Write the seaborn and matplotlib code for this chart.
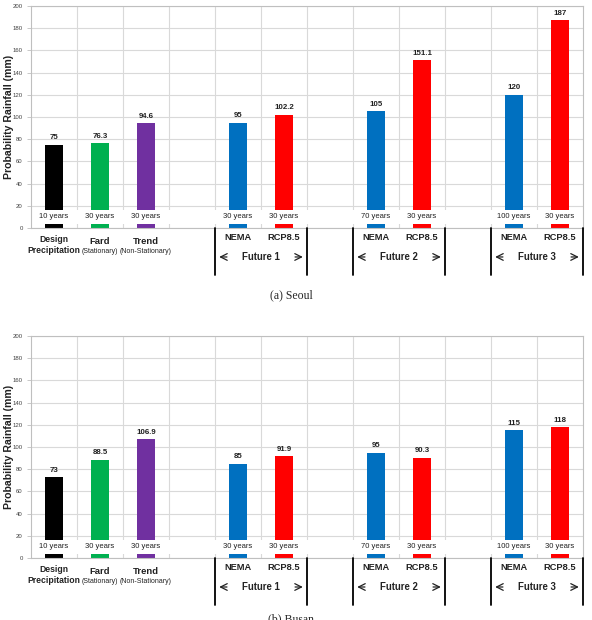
import matplotlib
matplotlib.use("Agg")
import matplotlib.pyplot as plt
import matplotlib.transforms as mtransforms
import seaborn as sns
import pandas as pd

# ---------------- data ----------------
slots = ["Design", "Fard", "Trend", "gap1", "F1 NEMA", "F1 RCP8.5",
         "gap2", "F2 NEMA", "F2 RCP8.5", "gap3", "F3 NEMA", "F3 RCP8.5"]
bar_keys = ["Design", "Fard", "Trend", "F1 NEMA", "F1 RCP8.5",
            "F2 NEMA", "F2 RCP8.5", "F3 NEMA", "F3 RCP8.5"]
seoul_values = [75, 76.3, 94.6, 95, 102.2, 105, 151.1, 120, 187]
busan_values = [73, 88.5, 106.9, 85, 91.9, 95, 90.3, 115, 118]
return_periods = ["10 years", "30 years", "30 years", "30 years", "30 years",
                  "70 years", "30 years", "100 years", "30 years"]
bar_colors = ["#000000", "#00b050", "#7030a0", "#0070c0", "#ff0000",
              "#0070c0", "#ff0000", "#0070c0", "#ff0000"]
main_labels = ["Design\nPrecipitation", "Fard", "Trend", "NEMA", "RCP8.5",
               "NEMA", "RCP8.5", "NEMA", "RCP8.5"]
sub_labels = ["", "(Stationary)", "(Non-Stationary)", "", "", "", "", "", ""]
future_labels = ["Future 1", "Future 2", "Future 3"]
future_spans = [("F1 NEMA", "F1 RCP8.5"), ("F2 NEMA", "F2 RCP8.5"), ("F3 NEMA", "F3 RCP8.5")]
y_ticks = [0, 20, 40, 60, 80, 100, 120, 140, 160, 180, 200]
captions = ["(a) Seoul", "(b) Busan"]

sns.set_theme(style="white")
plt.rcParams["font.family"] = ["Liberation Sans", "DejaVu Sans"]

fig = plt.figure(figsize=(5.92, 6.2), dpi=100)
ax_top = fig.add_axes([0.0524, 0.6323, 0.9324, 0.358])
ax_bot = fig.add_axes([0.0524, 0.1, 0.9324, 0.358])

palette = dict(zip(bar_keys, bar_colors))
PX = 0.72  # points per pixel at 100 dpi
TXT = "#222222"


def draw_panel(ax, values):
    df = pd.DataFrame({"key": bar_keys, "value": values})
    sns.barplot(data=df, x="key", y="value", hue="key", order=slots,
                hue_order=bar_keys, palette=palette, width=0.4,
                legend=False, ax=ax, saturation=1, linewidth=0)
    ax.set_xlim(-0.5, len(slots) - 0.5)
    ax.set_ylim(0, 200)
    ax.set_yticks(y_ticks)
    ax.set_yticklabels([str(t) for t in y_ticks], fontsize=4.3, color="#404040")
    ax.tick_params(axis="y", length=3, width=0.6, color="#bfbfbf", pad=3, left=True)
    # vertical grid at slot boundaries
    ax.set_xticks(range(len(slots)))
    ax.set_xticklabels([""] * len(slots))
    ax.tick_params(axis="x", which="major", length=0)
    ax.set_xticks([i - 0.5 for i in range(1, len(slots))], minor=True)
    ax.tick_params(axis="x", which="minor", length=3, color="#bfbfbf", width=0.6)
    ax.grid(True, axis="y", color="#d9d9d9", linewidth=0.8)
    ax.grid(True, axis="x", which="minor", color="#d9d9d9", linewidth=0.8)
    ax.set_axisbelow(True)
    ax.set_xlabel("")
    ax.set_ylabel("Probability Rainfall (mm)", fontsize=7.6, fontweight="bold",
                  color=TXT)
    ax.yaxis.label.set_va("center")
    ax.yaxis.set_label_coords(-22 / 552, 0.5)
    for sp in ax.spines.values():
        sp.set_color("#bfbfbf")
        sp.set_linewidth(0.8)

    # white band carrying the return-period labels
    ax.axhspan(3.5, 16.5, color="white", zorder=1.5, linewidth=0)

    positions = [slots.index(k) for k in bar_keys]
    for x, v, rp in zip(positions, values, return_periods):
        ax.text(x, 10, rp, ha="center", va="center", fontsize=5.5,
                color=TXT, zorder=3)
        ax.annotate(f"{v:g}", xy=(x, v), xytext=(0, 2.5), textcoords="offset points",
                    ha="center", va="bottom", fontsize=5.7, fontweight="bold",
                    color=TXT)

    trans = mtransforms.blended_transform_factory(ax.transData, ax.transAxes)
    for x, main, sub in zip(positions, main_labels, sub_labels):
        if "\n" in main:
            ax.annotate(main, xy=(x, 0), xycoords=trans, xytext=(0, -17 * PX),
                        textcoords="offset points", ha="center", va="center",
                        fontsize=6.2, fontweight="bold", color=TXT,
                        linespacing=1.25, annotation_clip=False)
        elif sub:
            ax.annotate(main, xy=(x, 0), xycoords=trans, xytext=(0, -13.5 * PX),
                        textcoords="offset points", ha="center", va="center",
                        fontsize=6.8, fontweight="bold", color=TXT,
                        annotation_clip=False)
            ax.annotate(sub, xy=(x, 0), xycoords=trans, xytext=(0, -23.5 * PX),
                        textcoords="offset points", ha="center", va="center",
                        fontsize=5, color=TXT, annotation_clip=False)
        else:
            ax.annotate(main, xy=(x, 0), xycoords=trans, xytext=(0, -9.5 * PX),
                        textcoords="offset points", ha="center", va="center",
                        fontsize=6.7, fontweight="bold", color=TXT,
                        annotation_clip=False)

    line_h = 47 / 222
    for label, (a, b) in zip(future_labels, future_spans):
        xa = slots.index(a) - 0.5
        xb = slots.index(b) + 0.5
        for xx in (xa, xb):
            ax.plot([xx, xx], [0, -line_h], transform=trans, color="black",
                    linewidth=1.3, clip_on=False, zorder=5)
        ymid = -29 / 222
        ax.text((xa + xb) / 2, ymid, label, transform=trans, ha="center",
                va="center", fontsize=6.9, fontweight="bold", color=TXT)
        ax.annotate("", xy=(xa + 0.03, ymid), xycoords=trans,
                    xytext=(xa + 0.32, ymid), textcoords=trans,
                    arrowprops=dict(arrowstyle="->", color=TXT, lw=0.9),
                    annotation_clip=False)
        ax.annotate("", xy=(xb - 0.03, ymid), xycoords=trans,
                    xytext=(xb - 0.32, ymid), textcoords=trans,
                    arrowprops=dict(arrowstyle="->", color=TXT, lw=0.9),
                    annotation_clip=False)


draw_panel(ax_top, seoul_values)
draw_panel(ax_bot, busan_values)

fig.text(0.492, 1 - 295 / 620, captions[0], ha="center", va="center",
         fontsize=8.5, family=["Liberation Serif", "DejaVu Serif"])
fig.text(0.492, 1 - 619 / 620, captions[1], ha="center", va="center",
         fontsize=8.5, family=["Liberation Serif", "DejaVu Serif"])

fig.savefig("out.png", dpi=100)
